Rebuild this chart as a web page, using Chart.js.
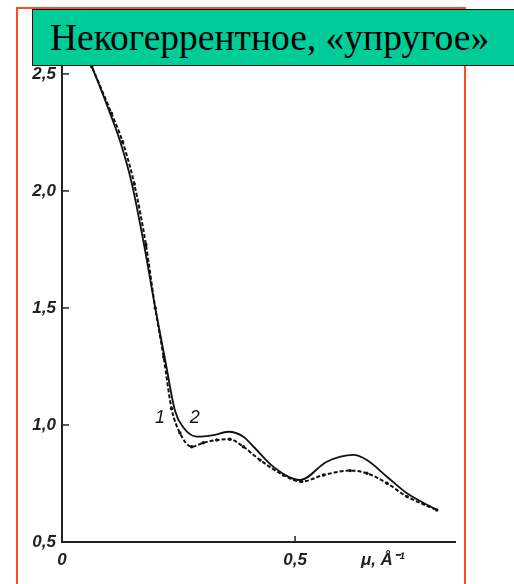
<!DOCTYPE html>
<html>
<head>
<meta charset="utf-8">
<script src="https://cdn.jsdelivr.net/npm/chart.js@4.4.1/dist/chart.umd.min.js"></script>
<style>
  html, body { margin: 0; padding: 0; background: #fff; overflow: hidden; }
  #wrap { position: relative; width: 514px; height: 584px; overflow: hidden; background: #fff; }
  #chart { position: absolute; left: 0; top: 0; }
  #frame {
    position: absolute; left: 16px; top: 7px; width: 446px; height: 600px;
    border: 2px solid #ff4a22;
  }
  #title {
    position: absolute; left: 32px; top: 9px; width: 477px; height: 55px;
    background: #00cc99; border: 1.5px solid #111;
    font-family: "Liberation Serif", "DejaVu Serif", serif; font-size: 37.5px;
    line-height: 55px; padding-left: 17px; color: #000; white-space: nowrap;
  }
</style>
</head>
<body>
<div id="wrap">
  <canvas id="chart" width="514" height="584"></canvas>
  <div id="frame"></div>
  <div id="title">Некогеррентное, «упругое»</div>
</div>
<script>
// ===============================
// DATA
// ===============================
// curve 2 (solid)
const mu2 = [0.040, 0.064, 0.103, 0.125, 0.150, 0.176, 0.200, 0.222, 0.2425, 0.260, 0.289, 0.325, 0.357, 0.389, 0.411, 0.453, 0.511, 0.568, 0.625, 0.654, 0.697, 0.740, 0.804];
const int2 = [2.64, 2.531, 2.332, 2.21, 2.03, 1.77, 1.50, 1.27, 1.06, 0.99, 0.95, 0.957, 0.971, 0.95, 0.907, 0.822, 0.765, 0.843, 0.872, 0.850, 0.779, 0.708, 0.637];

// curve 1 (dashed, dotted points)
const mu1 = [0.040, 0.064, 0.106, 0.130, 0.155, 0.180, 0.200, 0.218, 0.235, 0.253, 0.278, 0.303, 0.332, 0.360, 0.389, 0.425, 0.475, 0.514, 0.561, 0.618, 0.654, 0.697, 0.740, 0.804];
const int1 = [2.64, 2.531, 2.332, 2.21, 2.03, 1.77, 1.50, 1.29, 1.07, 0.966, 0.907, 0.924, 0.936, 0.939, 0.907, 0.850, 0.786, 0.758, 0.786, 0.805, 0.794, 0.751, 0.694, 0.637];

const yTickValues = [0.5, 1.0, 1.5, 2.0, 2.5];
const yTickLabels = ["0,5", "1,0", "1,5", "2,0", "2,5"];
const xTickValues = [0, 0.5, 0.688];
const xTickLabels = ["0", "0,5", "μ, Å⁻¹"];

// curve labels: [text, mu, intensity]
const curveLabels = [["1", 0.210, 1.03], ["2", 0.285, 1.03]];

// ===============================
// HELPERS
// ===============================
const toPts = (xs, ys) => xs.map((x, i) => ({ x: x, y: ys[i] }));
const tickFont = { family: "'Liberation Sans Narrow', 'Liberation Sans', Arial, sans-serif", size: 17, style: "italic", weight: "bold" };

// inward tick marks + curve numbers
const decorPlugin = {
  id: "decor",
  afterDraw(chart) {
    const ctx = chart.ctx;
    const xs = chart.scales.x, ys = chart.scales.y;
    ctx.save();
    ctx.strokeStyle = "#222";
    ctx.lineWidth = 1.5;
    yTickValues.forEach(v => {
      if (v === yTickValues[0]) return;
      const py = ys.getPixelForValue(v);
      ctx.beginPath();
      ctx.moveTo(xs.left, py);
      ctx.lineTo(xs.left + 7, py);
      ctx.stroke();
    });
    [xTickValues[1]].forEach(v => {
      const px = xs.getPixelForValue(v);
      ctx.beginPath();
      ctx.moveTo(px, ys.bottom);
      ctx.lineTo(px, ys.bottom - 6);
      ctx.stroke();
    });
    ctx.fillStyle = "#111";
    ctx.font = "italic 18px 'Liberation Sans Narrow', 'Liberation Sans', Arial, sans-serif";
    ctx.textAlign = "center";
    ctx.textBaseline = "middle";
    curveLabels.forEach(l => {
      ctx.fillText(l[0], xs.getPixelForValue(l[1]), ys.getPixelForValue(l[2]));
    });
    ctx.restore();
  }
};

// ===============================
// CHART
// ===============================
new Chart(document.getElementById("chart"), {
  type: "line",
  data: {
    datasets: [
      {
        label: "1",
        data: toPts(mu1, int1),
        borderColor: "#111",
        backgroundColor: "#111",
        borderWidth: 2,
        borderDash: [4, 2],
        pointRadius: 1.7,
        pointBorderWidth: 0,
        cubicInterpolationMode: "monotone",
        fill: false
      },
      {
        label: "2",
        data: toPts(mu2, int2),
        borderColor: "#111",
        borderWidth: 1.8,
        pointRadius: 0,
        cubicInterpolationMode: "monotone",
        fill: false
      }
    ]
  },
  options: {
    responsive: false,
    animation: false,
    devicePixelRatio: 1,
    layout: { padding: { top: 40, right: 59, left: 0, bottom: 0 } },
    plugins: { legend: { display: false }, tooltip: { enabled: false } },
    scales: {
      x: {
        type: "linear",
        min: 0,
        max: 0.843,
        afterFit: s => { s.height = 42; },
        afterBuildTicks: s => { s.ticks = xTickValues.map(v => ({ value: v })); },
        ticks: {
          callback: (v, i) => xTickLabels[i],
          font: tickFont,
          color: "#222",
          padding: 8,
          maxRotation: 0,
          autoSkip: false
        },
        grid: { drawOnChartArea: false, drawTicks: false },
        border: { color: "#222", width: 2 }
      },
      y: {
        type: "linear",
        min: 0.5,
        max: 2.645,
        afterFit: s => { s.width = 62; },
        afterBuildTicks: s => { s.ticks = yTickValues.map(v => ({ value: v })); },
        ticks: {
          callback: (v, i) => yTickLabels[i],
          font: tickFont,
          color: "#222",
          padding: 6
        },
        grid: { drawOnChartArea: false, drawTicks: false },
        border: { color: "#222", width: 2 }
      }
    }
  },
  plugins: [decorPlugin]
});
</script>
</body>
</html>
